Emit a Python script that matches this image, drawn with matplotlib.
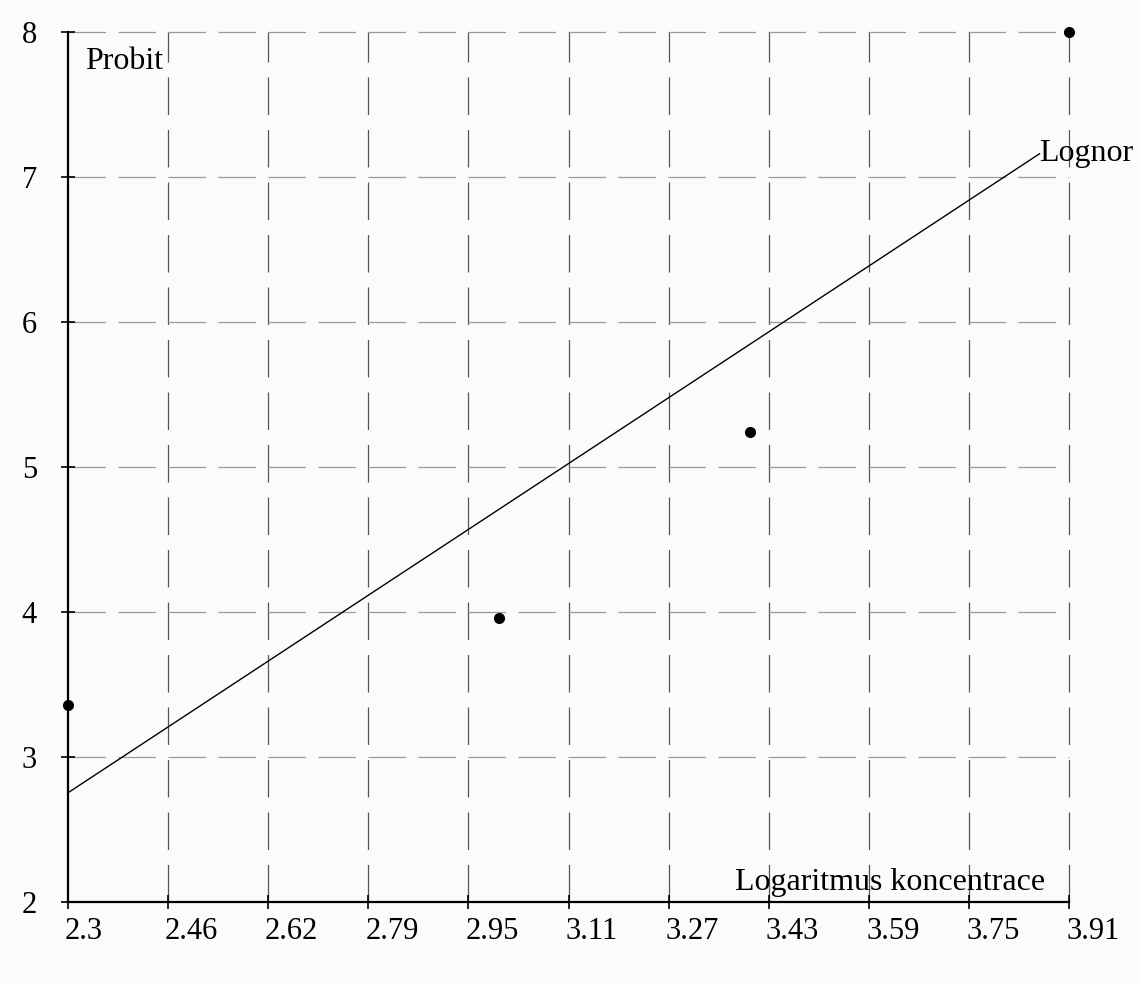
import numpy as np
from matplotlib import pyplot as plt
import matplotlib.transforms as mtransforms

# Observed points (log concentration, probit)
log_conc = [2.30, 2.993, 3.396, 3.91]
probit = [3.36, 3.96, 5.24, 8.0]

# Fitted lognormal line, its two ends
fit_x = [2.30, 3.862]
fit_y = [2.75, 7.16]

x_ticks = np.linspace(2.3, 3.91, 11)
x_labels = ['2.3', '2.46', '2.62', '2.79', '2.95', '3.11', '3.27', '3.43', '3.59', '3.75', '3.91']
y_ticks = [2, 3, 4, 5, 6, 7, 8]

plt.rcParams['font.family'] = ['Liberation Serif', 'DejaVu Serif']
bg = '#fdfafd'
fig = plt.figure(figsize=(11.41, 9.83), dpi=100, facecolor=bg)
ax = fig.add_axes([0.0593, 0.0827, 0.8779, 0.8847], facecolor=bg)

ax.set_xlim(2.3, 3.91)
ax.set_ylim(2, 8)

# dashed grid, vertical lines darker than horizontal ones
for x in x_ticks[1:]:
    ax.axvline(x, color='#555555', lw=0.9, ls=(0, (30, 12)), clip_on=False, zorder=1)
for y in y_ticks[1:]:
    ax.axhline(y, color='#9a9a9a', lw=0.9, ls=(0, (30, 10)), clip_on=False, zorder=1)

ax.plot(fit_x, fit_y, color='black', lw=1.0, zorder=2)
ax.plot(log_conc, probit, 'o', color='black', ms=7, clip_on=False, zorder=3)

for s in ['top', 'right']:
    ax.spines[s].set_visible(False)
for s in ['left', 'bottom']:
    ax.spines[s].set_linewidth(1.6)

ax.set_xticks(x_ticks)
ax.set_xticklabels(x_labels, ha='left')
ax.set_yticks(y_ticks)
ax.tick_params(axis='both', direction='inout', length=10, width=1.2, labelsize=22)
ax.tick_params(axis='x', pad=6)
ax.tick_params(axis='y', pad=17)
offset = mtransforms.ScaledTranslation(-3 / 100, 0, fig.dpi_scale_trans)
for lab in ax.get_xticklabels():
    lab.set_transform(lab.get_transform() + offset)

ax.text(2.328, 7.80, 'Probit', fontsize=23, ha='left', va='center')
ax.text(3.372, 2.13, 'Logaritmus koncentrace', fontsize=23, ha='left', va='center')
ax.text(3.862, 7.16, 'Lognor', fontsize=23, ha='left', va='center', clip_on=False)

fig.savefig('out.png', dpi=100, facecolor=bg)
